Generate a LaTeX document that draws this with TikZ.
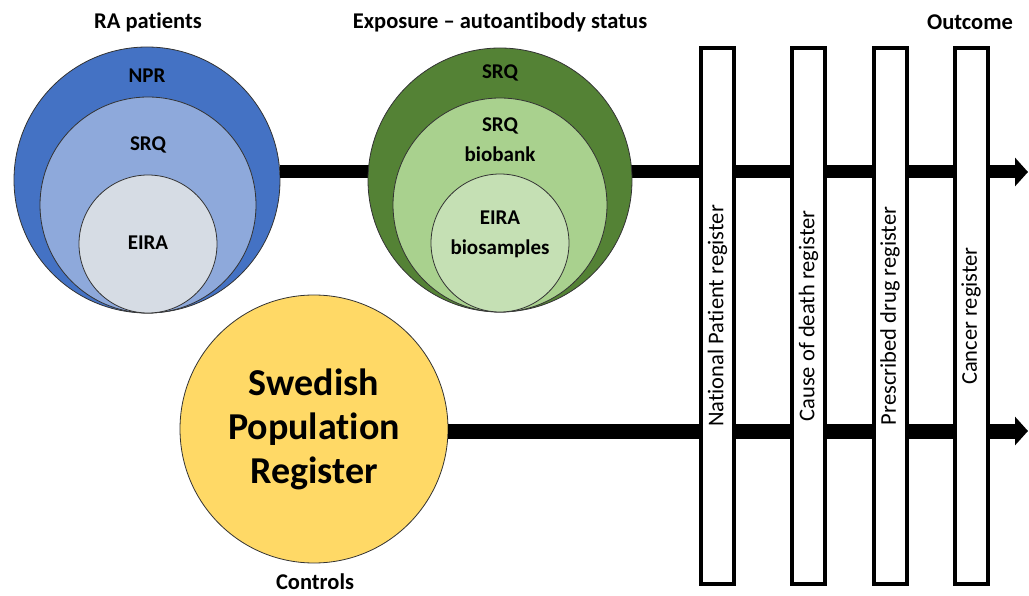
\documentclass[tikz,border=0pt]{standalone}
\usepackage{fontspec}
\setmainfont[Ligatures=NoCommon]{Carlito}
\usepackage{tikz}
\usetikzlibrary{arrows.meta}

\begin{document}
\begin{tikzpicture}
	[x=1pt,y=-1pt,line join=miter,
	%Styles
	heading/.style={font=\fontsize{22.5}{26}\selectfont\bfseries,inner sep=1pt},
	ring/.style={circle,draw=black!80,line width=.8pt,inner sep=0pt,minimum size=#1},
	ring label/.style={font=\fontsize{21}{30}\selectfont\bfseries,align=center},
	flow/.style={line width=#1,-{Triangle[length=13pt,width=28pt]}},
	register/.style={rectangle,draw,line width=4pt,fill=white,rotate=90,inner sep=0pt,
		minimum width=536pt,minimum height=33pt,font=\fontsize{22.5}{26}\selectfont}
	]

	%Colors
	\definecolor{nprblue}{HTML}{4472C4}
	\definecolor{srqblue}{HTML}{8EA9DB}
	\definecolor{eiragray}{HTML}{D6DCE4}
	\definecolor{srqgreen}{HTML}{548235}
	\definecolor{bankgreen}{HTML}{A9D18E}
	\definecolor{samplegreen}{HTML}{C5E0B4}
	\definecolor{popyellow}{HTML}{FFD966}

	\useasboundingbox (0,0) rectangle (1029,596);

	%RA patients
	\node[ring=266pt,fill=nprblue] (npr) at (147,180) {};
	\node[ring=216pt,fill=srqblue] (srq) at (148,205) {};
	\node[ring=138pt,fill=eiragray] (eira) at (148,244) {};

	\coordinate (endA) at (1028,172);
	\draw[flow=13pt] (npr.east |- endA) -- (endA);

	%Exposure
	\node[ring=264pt,fill=srqgreen] (srqg) at (500,180) {};
	\node[ring=214pt,fill=bankgreen] (bank) at (500,205) {};
	\node[ring=138pt,fill=samplegreen] (samp) at (500,243) {};

	%Controls
	\node[ring=268pt,fill=popyellow,align=center,font=\fontsize{38}{44}\selectfont\bfseries]
		(pop) at (314,429) {Swedish\\Population\\Register};

	\coordinate (endB) at (1028,431);
	\draw[flow=15pt] (pop.east |- endB) -- (endB);

	%Outcome registers
	\node[register] (natpat) at (717.5,316) {National Patient register};
	\node[register] (death) at (808.5,316) {Cause of death register};
	\node[register] (drug) at (890,316) {Prescribed drug register};
	\node[register] (cancer) at (971,316) {Cancer register};

	%Labels
	\node[heading] (ralbl) at (148,22) {RA patients};
	\node[heading] (explbl) at (500,22) {Exposure -- autoantibody status};
	\node[heading] (outlbl) at (970,22) {Outcome};
	\node[heading] (ctrllbl) at (315,582) {Controls};

	\node[ring label] (nprlbl) at (147,76) {NPR};
	\node[ring label] (srqlbl) at (148,145) {SRQ};
	\node[ring label] (eiralbl) at (148,243) {EIRA};
	\node[ring label] (srqglbl) at (500,73) {SRQ};
	\node[ring label] (banklbl) at (500,140) {SRQ\\biobank};
	\node[ring label] (samplbl) at (500,234) {EIRA\\biosamples};
\end{tikzpicture}
\end{document}
